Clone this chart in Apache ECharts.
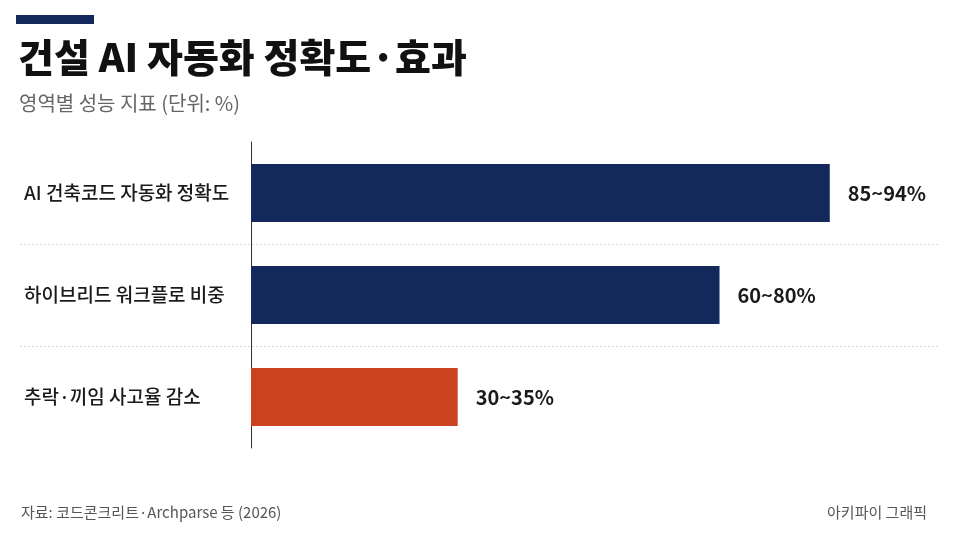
<!DOCTYPE html>
<html>
<head>
<meta charset="utf-8">
<script src="https://cdn.jsdelivr.net/npm/echarts@6/dist/echarts.min.js"></script>
<style>
  html, body { margin: 0; padding: 0; background: #fff; }
  #chart { width: 960px; height: 540px; }
</style>
</head>
<body>
<div id="chart"></div>
<script>
// data
const categories = ['AI 건축코드 자동화 정확도', '하이브리드 워크플로 비중', '추락·끼임 사고율 감소'];
const barValues = [84, 68, 30];
const rangeLabels = ['85~94%', '60~80%', '30~35%'];
const barColors = ['#13295b', '#13295b', '#cc421f'];

const FONT = '"Noto Sans CJK KR", "Noto Sans", sans-serif';

let chart = echarts.init(document.getElementById('chart'));
chart.setOption({
    backgroundColor: '#ffffff',
    animation: false,
    textStyle: {fontFamily: FONT},
    title: [
        {
            text: '건설 AI 자동화 정확도·효과',
            left: 13, top: 33,
            textStyle: {fontSize: 39, fontWeight: 900, color: '#111111', fontFamily: FONT}
        },
        {
            text: '영역별 성능 지표 (단위: %)',
            left: 14, top: 88,
            textStyle: {fontSize: 20, fontWeight: 400, color: '#666666', fontFamily: FONT}
        },
        {
            text: '자료: 코드콘크리트·Archparse 등 (2026)',
            left: 16, top: 500,
            textStyle: {fontSize: 15, fontWeight: 400, color: '#555555', fontFamily: FONT}
        },
        {
            text: '아키파이 그래픽',
            right: 28, top: 500,
            textStyle: {fontSize: 15, fontWeight: 400, color: '#555555', fontFamily: FONT}
        }
    ],
    graphic: [
        {type: 'rect', left: 16, top: 15, shape: {width: 78, height: 9}, style: {fill: '#13295b'}}
    ],
    grid: [
        {left: 251, right: 20, top: 142, height: 306},
        {left: 20, right: 20, top: 142, height: 306}
    ],
    xAxis: [
        {type: 'value', gridIndex: 0, min: 0, max: 100, show: false},
        {type: 'value', gridIndex: 1, min: 0, max: 100, show: false}
    ],
    yAxis: [
        {
            type: 'category', gridIndex: 0, inverse: true, data: categories,
            axisLine: {show: true, lineStyle: {color: '#333333', width: 1}},
            axisTick: {show: false},
            splitLine: {show: false},
            axisLabel: {
                align: 'left', margin: 227,
                fontSize: 19, fontWeight: 500, color: '#1a1a1a', fontFamily: FONT
            }
        },
        {
            type: 'category', gridIndex: 1, inverse: true, data: categories,
            axisLine: {show: false}, axisTick: {show: false}, axisLabel: {show: false},
            splitLine: {
                show: true, showMinLine: false, showMaxLine: false,
                lineStyle: {color: '#d8d8d8', type: [2, 2], width: 1}
            }
        }
    ],
    series: [
        {
            type: 'bar',
            xAxisIndex: 0, yAxisIndex: 0,
            barWidth: 58,
            data: barValues.map((v, i) => ({value: v, itemStyle: {color: barColors[i]}})),
            label: {
                show: true, position: 'right', distance: 18,
                formatter: p => rangeLabels[p.dataIndex],
                fontSize: 20, fontWeight: 700, color: '#1a1a1a', fontFamily: FONT
            }
        }
    ]
});
</script>
</body>
</html>
